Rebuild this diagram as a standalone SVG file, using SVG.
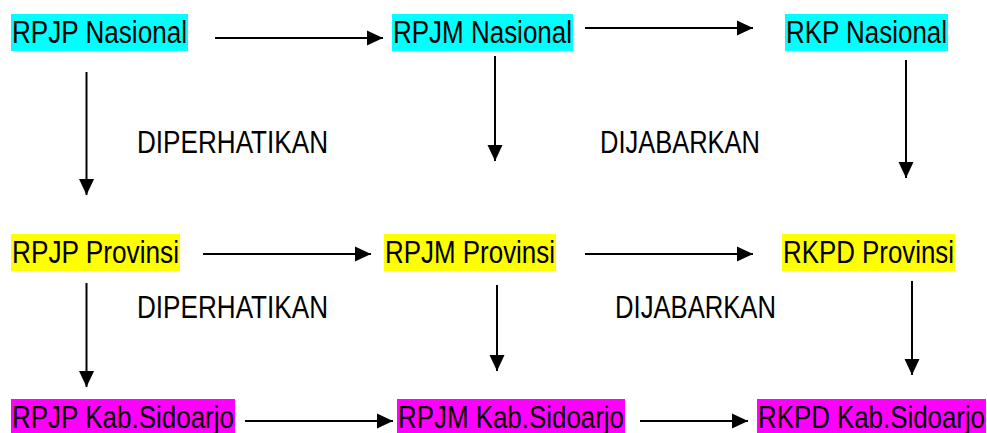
<svg xmlns="http://www.w3.org/2000/svg" width="987" height="433" viewBox="0 0 987 433">
<style>
.t{font-family:"Liberation Sans",Arial,sans-serif;font-size:31px;fill:#000}
.nas{fill:#00FFFF}
.prov{fill:#FFFF00}
.kab{fill:#FF00FF}
.c line{stroke:#000;stroke-width:2;marker-end:url(#ah)}
</style>
<defs>
<marker id="ah" markerUnits="userSpaceOnUse" markerWidth="16" markerHeight="16" refX="16" refY="8" orient="auto" viewBox="0 0 16 16">
<path d="M0,0.5 L16,8 L0,15.5 Z" fill="#000"/>
</marker>
</defs>
<rect width="987" height="433" fill="#fff"/>
<g id="rpjp-nasional"><rect class="nas" x="11" y="14" width="177" height="37"/><text class="t" x="12" y="42.7" textLength="175" lengthAdjust="spacingAndGlyphs">RPJP Nasional</text></g>
<g id="rpjm-nasional"><rect class="nas" x="392" y="14" width="181" height="37"/><text class="t" x="393" y="42.7" textLength="179" lengthAdjust="spacingAndGlyphs">RPJM Nasional</text></g>
<g id="rkp-nasional"><rect class="nas" x="785" y="14" width="163" height="37"/><text class="t" x="786" y="42.7" textLength="161" lengthAdjust="spacingAndGlyphs">RKP Nasional</text></g>
<g id="rpjp-provinsi"><rect class="prov" x="11" y="234" width="169" height="37"/><text class="t" x="12" y="262.7" textLength="167" lengthAdjust="spacingAndGlyphs">RPJP Provinsi</text></g>
<g id="rpjm-provinsi"><rect class="prov" x="384" y="234" width="172" height="37"/><text class="t" x="385" y="262.7" textLength="170" lengthAdjust="spacingAndGlyphs">RPJM Provinsi</text></g>
<g id="rkpd-provinsi"><rect class="prov" x="782" y="234" width="173" height="37"/><text class="t" x="783" y="262.7" textLength="171" lengthAdjust="spacingAndGlyphs">RKPD Provinsi</text></g>
<g id="rpjp-kab"><rect class="kab" x="11" y="399" width="224" height="37"/><text class="t" x="12" y="427.7" textLength="222" lengthAdjust="spacingAndGlyphs">RPJP Kab.Sidoarjo</text></g>
<g id="rpjm-kab"><rect class="kab" x="397" y="399" width="228" height="37"/><text class="t" x="398" y="427.7" textLength="226" lengthAdjust="spacingAndGlyphs">RPJM Kab.Sidoarjo</text></g>
<g id="rkpd-kab"><rect class="kab" x="757" y="399" width="229" height="37"/><text class="t" x="758" y="427.7" textLength="227" lengthAdjust="spacingAndGlyphs">RKPD Kab.Sidoarjo</text></g>
<g id="labels">
<text class="t" x="137" y="153" textLength="191" lengthAdjust="spacingAndGlyphs">DIPERHATIKAN</text>
<text class="t" x="600" y="153" textLength="160" lengthAdjust="spacingAndGlyphs">DIJABARKAN</text>
<text class="t" x="137" y="318" textLength="191" lengthAdjust="spacingAndGlyphs">DIPERHATIKAN</text>
<text class="t" x="615" y="318" textLength="161" lengthAdjust="spacingAndGlyphs">DIJABARKAN</text>
</g>
<g id="connectors" class="c">
<line x1="215" y1="38" x2="383" y2="38"/>
<line x1="585" y1="28" x2="753" y2="28"/>
<line x1="86.5" y1="72" x2="86.5" y2="195"/>
<line x1="495" y1="56" x2="495" y2="161"/>
<line x1="906" y1="60" x2="906" y2="178"/>
<line x1="203" y1="254" x2="371" y2="254"/>
<line x1="585" y1="254" x2="753" y2="254"/>
<line x1="86.5" y1="283" x2="86.5" y2="387"/>
<line x1="497" y1="285" x2="497" y2="371"/>
<line x1="912" y1="281" x2="912" y2="375"/>
<line x1="245" y1="421" x2="393" y2="421"/>
<line x1="640" y1="421" x2="748" y2="421"/>
</g>
</svg>
